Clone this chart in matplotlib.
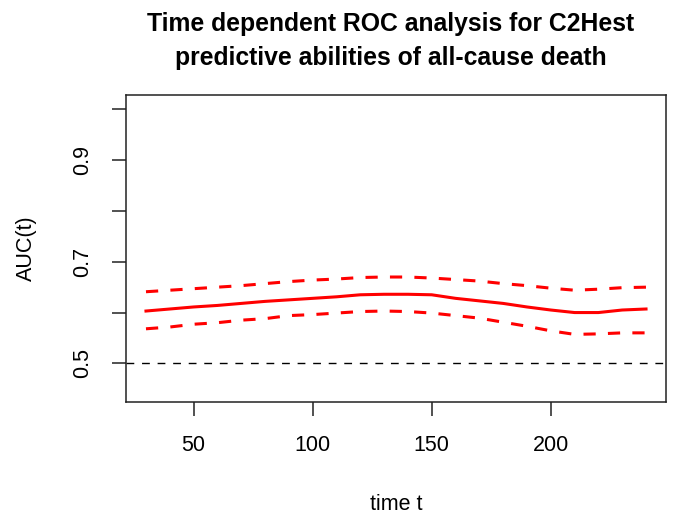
import matplotlib
matplotlib.use('Agg')
import matplotlib.pyplot as plt

plt.rcParams['font.family'] = ['Liberation Sans', 'DejaVu Sans']

time_t = [30, 40, 50, 60, 70, 80, 90, 100, 110, 120, 130,
          140, 150, 160, 170, 180, 190, 200, 210, 220, 230, 240]
auc = [0.603, 0.607, 0.611, 0.614, 0.618, 0.622, 0.625, 0.628, 0.631, 0.635, 0.636,
       0.636, 0.635, 0.628, 0.623, 0.618, 0.611, 0.605, 0.600, 0.600, 0.605, 0.607]
auc_upper = [0.641, 0.644, 0.647, 0.650, 0.653, 0.657, 0.661, 0.664, 0.666, 0.669, 0.670,
             0.670, 0.668, 0.665, 0.662, 0.657, 0.653, 0.648, 0.644, 0.646, 0.649, 0.650]
auc_lower = [0.568, 0.5715, 0.577, 0.580, 0.585, 0.588, 0.594, 0.596, 0.599, 0.602, 0.603,
             0.602, 0.599, 0.594, 0.589, 0.581, 0.573, 0.564, 0.557, 0.558, 0.560, 0.560]

x_ticks = [50, 100, 150, 200]
y_ticks = [0.5, 0.6, 0.7, 0.8, 0.9, 1.0]
y_tick_labels = ['0.5', '', '0.7', '', '0.9', '']

fig = plt.figure(figsize=(6.81, 5.15), dpi=100)
ax = fig.add_axes([0.185, 0.22, 0.793, 0.596])

ax.plot(time_t, auc, color='red', linewidth=2.2)
ax.plot(time_t, auc_upper, color='red', linewidth=2.2, dashes=(4, 4))
ax.plot(time_t, auc_lower, color='red', linewidth=2.2, dashes=(4, 4))
ax.axhline(0.5, color='black', linewidth=1.0, dashes=(5.6, 5.6))

ax.set_xlim(21.6, 248.4)
ax.set_ylim(0.4244, 1.029)
ax.set_xticks(x_ticks)
ax.set_yticks(y_ticks)
ax.set_yticklabels(y_tick_labels, rotation=90, va='center')

for s in ax.spines.values():
    s.set_linewidth(1.1)
    s.set_color('#222222')
ax.tick_params(axis='both', labelsize=15.5, length=10, width=1.1, color='#222222')
ax.tick_params(axis='x', pad=14)
ax.tick_params(axis='y', pad=14)

ax.set_xlabel("time t", fontsize=15.5, labelpad=27)
ax.set_ylabel("AUC(t)", fontsize=15.5, labelpad=25)

fig.text(0.574, 0.921, "Time dependent ROC analysis for C2Hest\npredictive abilities of all-cause death",
         ha='center', va='center', fontsize=17.8, fontweight='bold', linespacing=1.52)

fig.savefig('out.png', dpi=100)
